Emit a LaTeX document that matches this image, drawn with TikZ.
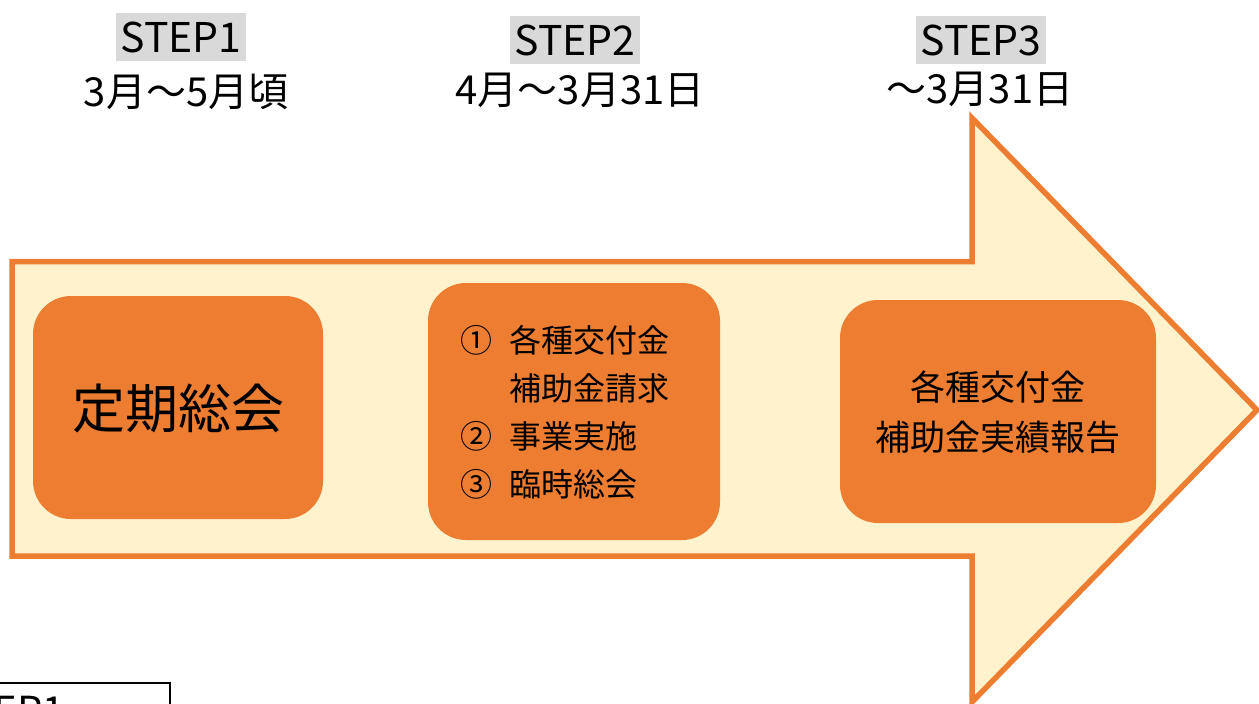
\documentclass[tikz,border=0pt]{standalone}
\usepackage{fontspec}
\setmainfont{Noto Sans CJK JP}
\definecolor{orng}{HTML}{ED7D31}
\definecolor{pale}{HTML}{FFF2CC}
\definecolor{stepgray}{HTML}{D9D9D9}
\begin{document}
\begin{tikzpicture}[x=1pt,y=-1pt,
  stepbox/.style={fill=stepgray, inner sep=0pt, minimum width=130pt, minimum height=48pt, font=\fontsize{41}{46}\selectfont},
  datelabel/.style={inner sep=0pt, font=\fontsize{40}{46}\selectfont},
  card/.style={fill=orng, rounded corners=38pt, inner sep=0pt},
  arrowshape/.style={draw=orng, fill=pale, line width=5.5pt, line join=miter},
  cardtext/.style={inner sep=0pt, align=center},
]
\useasboundingbox (0,0) rectangle (1259,704);
\clip (0,0) rectangle (1259,704);
% big arrow
\coordinate (p1) at (12,261.5);
\coordinate (p2) at (972,261.5);
\coordinate (p3) at (972,118);
\coordinate (p4) at (1257,410);
\coordinate (p5) at (972,702);
\coordinate (p6) at (972,556);
\coordinate (p7) at (12,556);
\draw[arrowshape] (p1) -- (p2) -- (p3) -- (p4) -- (p5) -- (p6) -- (p7) -- cycle;
% step headers
\node[stepbox] (s1) at (181,37) {STEP1};
\node[stepbox] (s2) at (575,40) {STEP2};
\node[stepbox] (s3) at (981,40) {STEP3};
\node[datelabel] (d1) at (186,92) {3月～5月頃};
\node[datelabel] (d2) at (580,90) {4月～3月31日};
\node[datelabel] (d3) at (980,89) {～3月31日};
% cards
\node[card, minimum width=290pt, minimum height=223pt] (b1) at (178,407.5) {};
\node[cardtext, font=\fontsize{53}{60}\selectfont] (b1t) at (178,408) {定期総会};
\node[card, minimum width=292pt, minimum height=257pt] (b2) at (574,411.5) {};
\node[inner sep=0pt, align=left, font=\fontsize{32}{48}\selectfont] (b2t) at (565,412)
  {\makebox[49pt][l]{①}各種交付金\\\makebox[49pt][l]{}補助金請求\\\makebox[49pt][l]{②}事業実施\\\makebox[49pt][l]{③}臨時総会};
\node[card, minimum width=316pt, minimum height=223pt] (b3) at (998,411.5) {};
\node[cardtext, font=\fontsize{35}{50}\selectfont] (b3t) at (998,412) {各種交付金\\補助金実績報告};
% clipped box at bottom left
\draw[line width=2pt] (-60,683) rectangle (170,760);
\node[anchor=base east, inner sep=0pt, font=\fontsize{40}{44}\selectfont] (s1b) at (65,725) {STEP1};
\end{tikzpicture}
\end{document}
